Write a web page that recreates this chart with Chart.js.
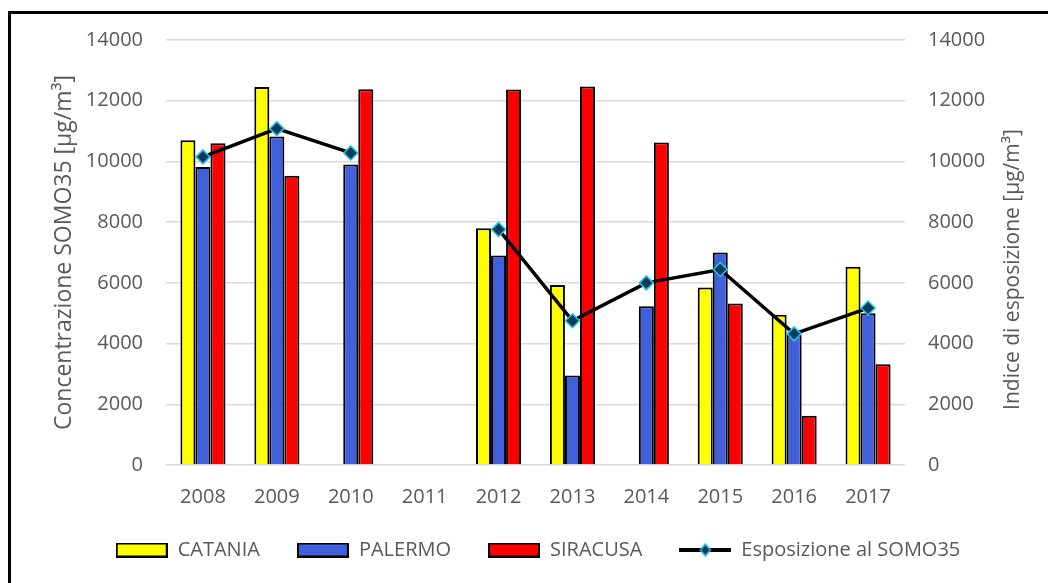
<!DOCTYPE html>
<html>
<head>
<meta charset="utf-8">
<script src="https://cdn.jsdelivr.net/npm/chart.js@4/dist/chart.umd.min.js"></script>
<style>
  html, body { margin: 0; padding: 0; background: #ffffff; }
  #wrap { position: relative; width: 1048px; height: 583px; }
  canvas { display: block; }
</style>
</head>
<body>
<div id="wrap"><canvas id="c" width="1048" height="583"></canvas></div>
<script>
const years = ['2008', '2009', '2010', '2011', '2012', '2013', '2014', '2015', '2016', '2017'];
const catania  = [10700, 12450, null, null, 7800, 5930, null, 5850, 4950, 6530];
const palermo  = [9820, 10820, 9900, null, 6900, 2950, 5230, 7000, 4280, 5000];
const siracusa = [10600, 9530, 12380, null, 12370, 12470, 10620, 5320, 1620, 3320];
const esposizione = [10150, 11080, 10280, null, 7760, 4750, 6000, 6440, 4320, 5170];
const yTicks = [0, 2000, 4000, 6000, 8000, 10000, 12000, 14000];

const seriesNames = ['CATANIA', 'PALERMO', 'SIRACUSA', 'Esposizione al SOMO35'];
const leftTitle = 'Concentrazione SOMO35 [µg/m³]';
const rightTitle = 'Indice di esposizione [µg/m³]';
const FONT = '"Open Sans", "DejaVu Sans", sans-serif';
const TXT = '#595959';

function boxImg(fill) {
  const c = document.createElement('canvas');
  c.width = 52; c.height = 15;
  const x = c.getContext('2d');
  x.fillStyle = fill; x.fillRect(1, 1, 50, 13);
  x.strokeStyle = '#000'; x.lineWidth = 2; x.strokeRect(1, 1, 50, 13);
  return c;
}
function lineImg() {
  const c = document.createElement('canvas');
  c.width = 52; c.height = 16;
  const x = c.getContext('2d');
  x.strokeStyle = '#000'; x.lineWidth = 4;
  x.beginPath(); x.moveTo(0, 8); x.lineTo(52, 8); x.stroke();
  x.fillStyle = '#0E3A5A'; x.strokeStyle = '#1EC8EC'; x.lineWidth = 1.5;
  x.beginPath(); x.moveTo(26, 2); x.lineTo(31, 8); x.lineTo(26, 14); x.lineTo(21, 8); x.closePath();
  x.fill(); x.stroke();
  return c;
}

const frame = {
  id: 'frame',
  beforeDraw(chart) {
    const ctx = chart.ctx;
    ctx.save();
    ctx.fillStyle = '#fff';
    ctx.fillRect(0, 0, chart.width, chart.height);
    ctx.strokeStyle = '#000';
    ctx.lineWidth = 3;
    ctx.strokeRect(9.5, 12.5, 1200, 800);
    ctx.restore();
  },
  afterDraw(chart) {
    const ctx = chart.ctx;
    const s = chart.scales.y2;
    ctx.save();
    ctx.translate(s.right - 35, (chart.chartArea.top + chart.chartArea.bottom) / 2 + 17);
    ctx.rotate(-Math.PI / 2);
    ctx.textAlign = 'center';
    ctx.textBaseline = 'middle';
    ctx.fillStyle = TXT;
    ctx.font = '21px ' + FONT;
    ctx.fillText(rightTitle, 0, 0);
    ctx.restore();
  }
};

const imgs = [boxImg('#FFFF00'), boxImg('#3F5FDB'), boxImg('#FF0000'), lineImg()];

new Chart(document.getElementById('c'), {
  data: {
    labels: years,
    datasets: [
      { type: 'line', label: seriesNames[3], data: esposizione, yAxisID: 'y2',
        borderColor: '#000', borderWidth: 3.5, pointStyle: 'rectRot', pointRadius: 7,
        pointBackgroundColor: '#0E3A5A', pointBorderColor: '#1EC8EC', pointBorderWidth: 1.5,
        spanGaps: false, tension: 0, order: 0 },
      { type: 'bar', label: seriesNames[0], data: catania, yAxisID: 'y',
        backgroundColor: '#FFFF00', borderColor: '#000', borderWidth: 2, order: 1 },
      { type: 'bar', label: seriesNames[1], data: palermo, yAxisID: 'y',
        backgroundColor: '#3F5FDB', borderColor: '#000', borderWidth: 2, order: 1 },
      { type: 'bar', label: seriesNames[2], data: siracusa, yAxisID: 'y',
        backgroundColor: '#FF0000', borderColor: '#000', borderWidth: 2, order: 1 }
    ]
  },
  options: {
    responsive: false,
    animation: false,
    devicePixelRatio: 1,
    layout: { padding: { left: 28, right: 0, top: 40, bottom: 13 } },
    datasets: { bar: { barPercentage: 1.0, categoryPercentage: 0.61 } },
    plugins: {
      tooltip: { enabled: false },
      legend: {
        position: 'bottom',
        labels: {
          usePointStyle: true,
          pointStyleWidth: 52,
          padding: 37,
          color: TXT,
          font: { family: FONT, size: 20 },
          generateLabels(chart) {
            const order = [1, 2, 3, 0];
            return order.map((di, i) => ({
              text: chart.data.datasets[di].label,
              pointStyle: imgs[i],
              fillStyle: 'transparent', strokeStyle: 'transparent', lineWidth: 0,
              fontColor: TXT, hidden: false, datasetIndex: di
            }));
          }
        }
      }
    },
    scales: {
      x: {
        type: 'category',
        offset: true,
        grid: { display: false, drawTicks: false },
        border: { display: false },
        ticks: { color: TXT, font: { family: FONT, size: 20 }, padding: 20, maxRotation: 0 },
        afterFit(s) { s.height = 38; }
      },
      y: {
        position: 'left',
        min: 0, max: 14000,
        afterBuildTicks(s) { s.ticks = yTicks.map(v => ({ value: v })); },
        grid: { color: '#D9D9D9', lineWidth: 1.5, drawTicks: false },
        border: { display: false },
        ticks: { color: TXT, font: { family: FONT, size: 20 }, padding: 23, callback: v => String(v) },
        title: { display: true, text: leftTitle, color: TXT,
                 font: { family: FONT, size: 23 }, padding: { top: 23, bottom: 0 } },
        afterFit(s) { s.width = 138; }
      },
      y2: {
        position: 'right',
        min: 0, max: 14000,
        afterBuildTicks(s) { s.ticks = yTicks.map(v => ({ value: v })); },
        grid: { display: false, drawTicks: false },
        border: { display: false },
        ticks: { color: TXT, font: { family: FONT, size: 20 }, padding: 23, callback: v => String(v) },
        afterFit(s) { s.width = 143; }
      }
    }
  },
  plugins: [frame]
});
</script>
</body>
</html>
